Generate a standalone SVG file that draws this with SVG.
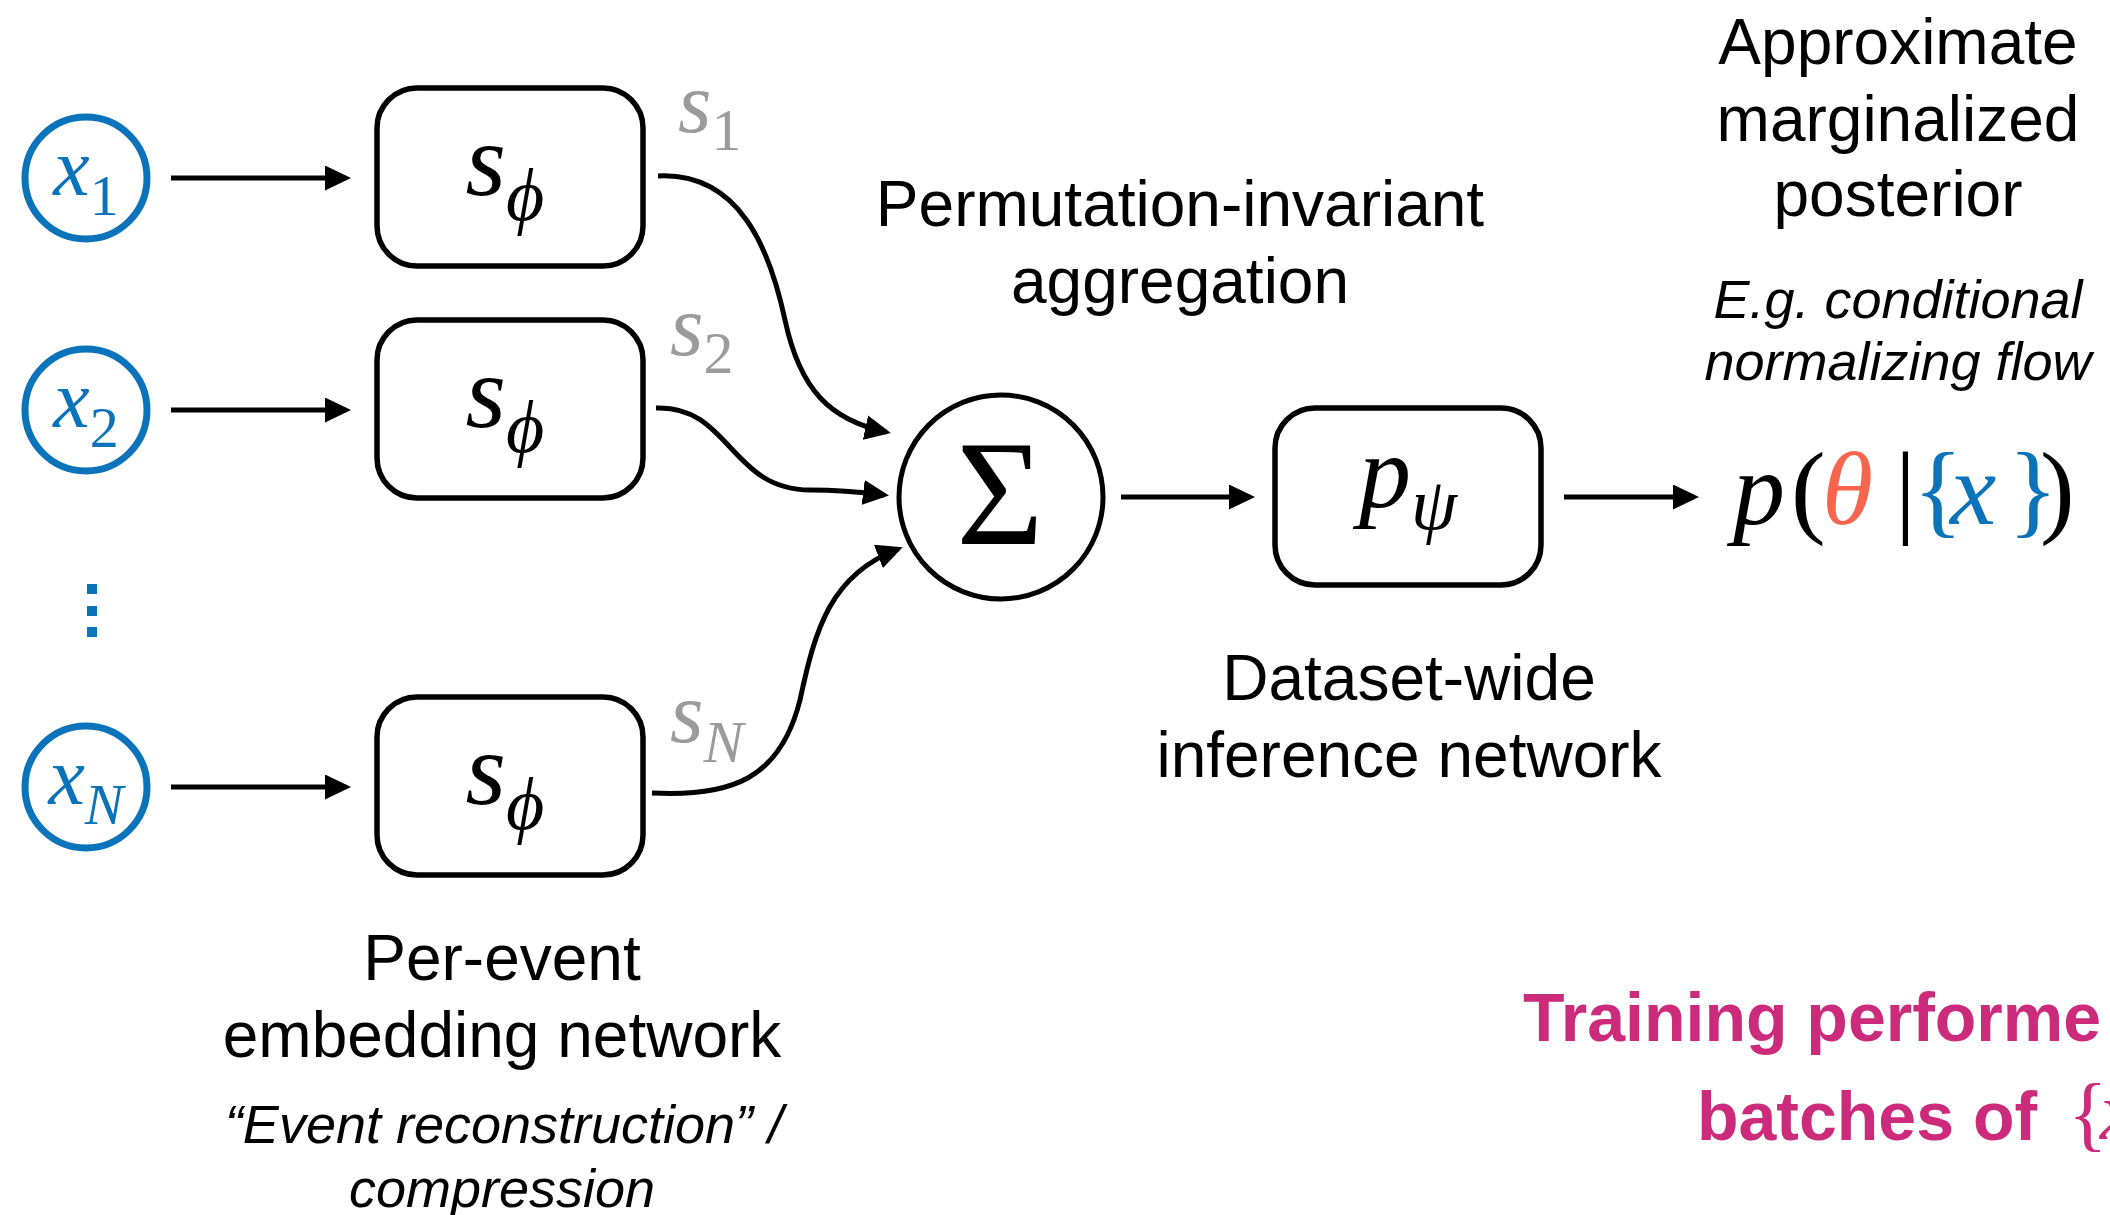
<svg xmlns="http://www.w3.org/2000/svg" width="2110" height="1215" viewBox="0 0 2110 1215">
  <defs>
    <marker id="arrow" markerUnits="userSpaceOnUse" markerWidth="26" markerHeight="25" viewBox="0 0 26 25" refX="21" refY="12.5" orient="auto">
      <path d="M0,0 L26,12.5 L0,25 z" fill="#000"/>
    </marker>
    <style>
      .bg { fill: #fff; }
      .event { fill: #fff; stroke: #0a73b9; stroke-width: 7; }
      .box { fill: #fff; stroke: #000; stroke-width: 5.5; }
      .sum { fill: #fff; stroke: #000; stroke-width: 5; }
      .edge { fill: none; stroke: #000; stroke-width: 5; marker-end: url(#arrow); }
      .math { font-family: "Liberation Serif", "Times New Roman", "DejaVu Serif", serif; }
      .it { font-style: italic; }
      .up { font-style: normal; }
      .blue { fill: #0a73b9; }
      .gray { fill: #9b9b9b; }
      .label { font-family: "Liberation Sans", Arial, Helvetica, sans-serif; font-size: 64px; fill: #000; text-anchor: middle; }
      .note { font-family: "Liberation Sans", Arial, Helvetica, sans-serif; font-size: 54px; font-style: italic; fill: #000; text-anchor: middle; }
      .train { font-family: "Liberation Sans", Arial, Helvetica, sans-serif; font-size: 68px; font-weight: bold; fill: #cc2b7b; }
    </style>
  </defs>

  <rect class="bg" x="0" y="0" width="2110" height="1215"/>

  <!-- connectors -->
  <g id="connectors">
    <path class="edge" d="M171 178 H346"/>
    <path class="edge" d="M171 410 H346"/>
    <path class="edge" d="M171 787 H346"/>
    <path class="edge" d="M658 176 C740 172, 770 250, 785 320 C800 390, 830 420, 886 432"/>
    <path class="edge" d="M656 408 C730 405, 730 490, 810 490 C840 490, 860 492, 884 495"/>
    <path class="edge" d="M652 793 C730 797, 780 780, 800 700 C815 630, 830 575, 898 549"/>
    <path class="edge" d="M1121 497 H1250"/>
    <path class="edge" d="M1564 497 H1694"/>
  </g>

  <!-- input events -->
  <g id="event-1">
    <circle class="event" cx="86" cy="178" r="61"/>
    <text class="math it blue" x="86" y="195" font-size="82" text-anchor="middle">x<tspan class="up" font-size="58" dy="20">1</tspan></text>
  </g>
  <g id="event-2">
    <circle class="event" cx="86" cy="410" r="61"/>
    <text class="math it blue" x="86" y="427" font-size="82" text-anchor="middle">x<tspan class="up" font-size="58" dy="20">2</tspan></text>
  </g>
  <g id="event-dots" fill="#0a73b9">
    <rect x="87" y="584" width="10" height="10"/>
    <rect x="87" y="606" width="10" height="10"/>
    <rect x="87" y="627" width="10" height="10"/>
  </g>
  <g id="event-N">
    <circle class="event" cx="86" cy="787" r="61"/>
    <text class="math it blue" x="86" y="804" font-size="82" text-anchor="middle">x<tspan font-size="58" dy="20">N</tspan></text>
  </g>

  <!-- per-event embedding networks -->
  <g id="embed-1">
    <rect class="box" x="377" y="88" width="266" height="178" rx="40" ry="40"/>
    <text class="math it" x="505" y="195" font-size="104" text-anchor="middle">s<tspan font-size="74" dy="25">ϕ</tspan></text>
  </g>
  <g id="embed-2">
    <rect class="box" x="377" y="320" width="266" height="178" rx="40" ry="40"/>
    <text class="math it" x="505" y="427" font-size="104" text-anchor="middle">s<tspan font-size="74" dy="25">ϕ</tspan></text>
  </g>
  <g id="embed-N">
    <rect class="box" x="377" y="697" width="266" height="178" rx="40" ry="40"/>
    <text class="math it" x="505" y="804" font-size="104" text-anchor="middle">s<tspan font-size="74" dy="25">ϕ</tspan></text>
  </g>

  <!-- summary labels -->
  <g id="summary-labels" class="gray">
    <text class="math it" x="678" y="132" font-size="86">s<tspan class="up" font-size="60" dy="18">1</tspan></text>
    <text class="math it" x="670" y="355" font-size="86">s<tspan class="up" font-size="60" dy="18">2</tspan></text>
    <text class="math it" x="670" y="742" font-size="86">s<tspan font-size="60" dy="20">N</tspan></text>
  </g>

  <!-- aggregation -->
  <g id="sum">
    <circle class="sum" cx="1001" cy="497" r="102"/>
    <text class="math" x="1000" y="544" font-size="150" text-anchor="middle">Σ</text>
  </g>

  <!-- inference network -->
  <g id="inference">
    <rect class="box" x="1275" y="408" width="266" height="177" rx="40" ry="40"/>
    <text class="math it" x="1408" y="507" font-size="104" text-anchor="middle">p<tspan font-size="74" dy="22">ψ</tspan></text>
  </g>

  <!-- posterior -->
  <g id="posterior">
    <text class="math" y="524" font-size="104"><tspan class="it" x="1733">p</tspan><tspan x="1791">(</tspan><tspan class="it" x="1822" fill="#f7654f">θ</tspan><tspan x="1895">|</tspan><tspan class="blue" x="1913">{</tspan><tspan class="it blue" x="1950">x</tspan><tspan class="blue" x="2008">}</tspan><tspan x="2040">)</tspan></text>
  </g>

  <!-- captions -->
  <g id="caption-aggregation">
    <text class="label" x="1180" y="226">Permutation-invariant</text>
    <text class="label" x="1180" y="303">aggregation</text>
  </g>
  <g id="caption-posterior">
    <text class="label" x="1898" y="64">Approximate</text>
    <text class="label" x="1898" y="141">marginalized</text>
    <text class="label" x="1898" y="216">posterior</text>
    <text class="note" x="1898" y="318">E.g. conditional</text>
    <text class="note" x="1898" y="380">normalizing flow</text>
  </g>
  <g id="caption-inference">
    <text class="label" x="1409" y="700">Dataset-wide</text>
    <text class="label" x="1409" y="777">inference network</text>
  </g>
  <g id="caption-embedding">
    <text class="label" x="502" y="980">Per-event</text>
    <text class="label" x="502" y="1057">embedding network</text>
    <text class="note" x="504" y="1143">“Event reconstruction” /</text>
    <text class="note" x="502" y="1207">compression</text>
  </g>
  <g id="caption-training">
    <text class="train" x="1523" y="1041">Training performe</text>
    <text class="train" x="1697" y="1140">batches of<tspan class="math" font-weight="normal" font-size="82" x="2068" y="1141">{</tspan><tspan class="math it" font-weight="normal" font-size="82" x="2100" y="1139">x</tspan></text>
  </g>
</svg>
